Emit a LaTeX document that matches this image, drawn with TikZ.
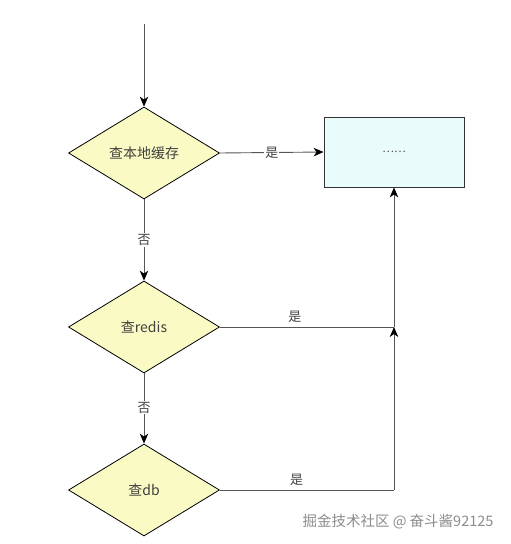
\documentclass[tikz,border=0pt]{standalone}
\usepackage{fontspec}
\setmainfont{Liberation Sans}
\newfontfamily\cjk{Noto Sans CJK SC}
\usetikzlibrary{arrows.meta,shapes.geometric}
\definecolor{decfill}{HTML}{FAFAC4}
\definecolor{boxfill}{HTML}{EAFBFC}
\definecolor{linegray}{HTML}{555555}
\tikzset{
  decision/.style={diamond,draw=black,fill=decfill,line width=0.8pt,minimum width=151pt,minimum height=92pt,inner sep=0pt,aspect=1.64,font=\cjk\fontsize{14}{16}\selectfont,text=black!75},
  procbox/.style={rectangle,draw=black!80,fill=boxfill,line width=0.8pt,minimum width=140pt,minimum height=70pt,inner sep=0pt,font=\cjk\fontsize{11}{13}\selectfont,text=black!70},
  conn/.style={draw=linegray,line width=0.9pt},
  arr/.style={conn,-{Stealth[length=10pt,width=8.5pt,inset=3pt,color=black]},shorten >=0pt},
  lbl/.style={font=\cjk\fontsize{13}{15}\selectfont,text=black!75,inner sep=1pt},
  lblbg/.style={lbl,fill=white},
}
\begin{document}
\begin{tikzpicture}[x=1pt,y=-1pt]
\useasboundingbox (0,0) rectangle (511,544);
\node[decision] (d1) at (144,153) {查本地缓存};
\node[decision] (d2) at (144,327) {查redis};
\node[decision] (d3) at (144,490) {查db};
\node[procbox] (box) at (394,152) {……};
\coordinate (start) at (144,24);
\coordinate (j2) at (394,327);
\coordinate (j3) at (394,490);
\draw[arr] (start) -- (d1.north);
\draw[arr] (d1.east) -- node[lblbg,pos=0.5] {是} (box.west);
\draw[arr] (d1.south) -- node[lblbg,pos=0.5] {否} (d2.north);
\draw[arr] (d2.south) -- node[lblbg,pos=0.49] {否} (d3.north);
\draw[conn] (d2.east) -- node[lbl,above=3pt,pos=0.43] {是} (j2);
\draw[arr] (j2) -- (box.south);
\draw[conn] (d3.east) -- node[lbl,above=3pt,pos=0.44] {是} (j3);
\draw[arr] (j3) -- (j2);
\node[font=\cjk\fontsize{14.5}{16}\selectfont,text=black!45,anchor=center] (wm) at (398,522) {掘金技术社区 @ 奋斗酱92125};
\end{tikzpicture}
\end{document}
